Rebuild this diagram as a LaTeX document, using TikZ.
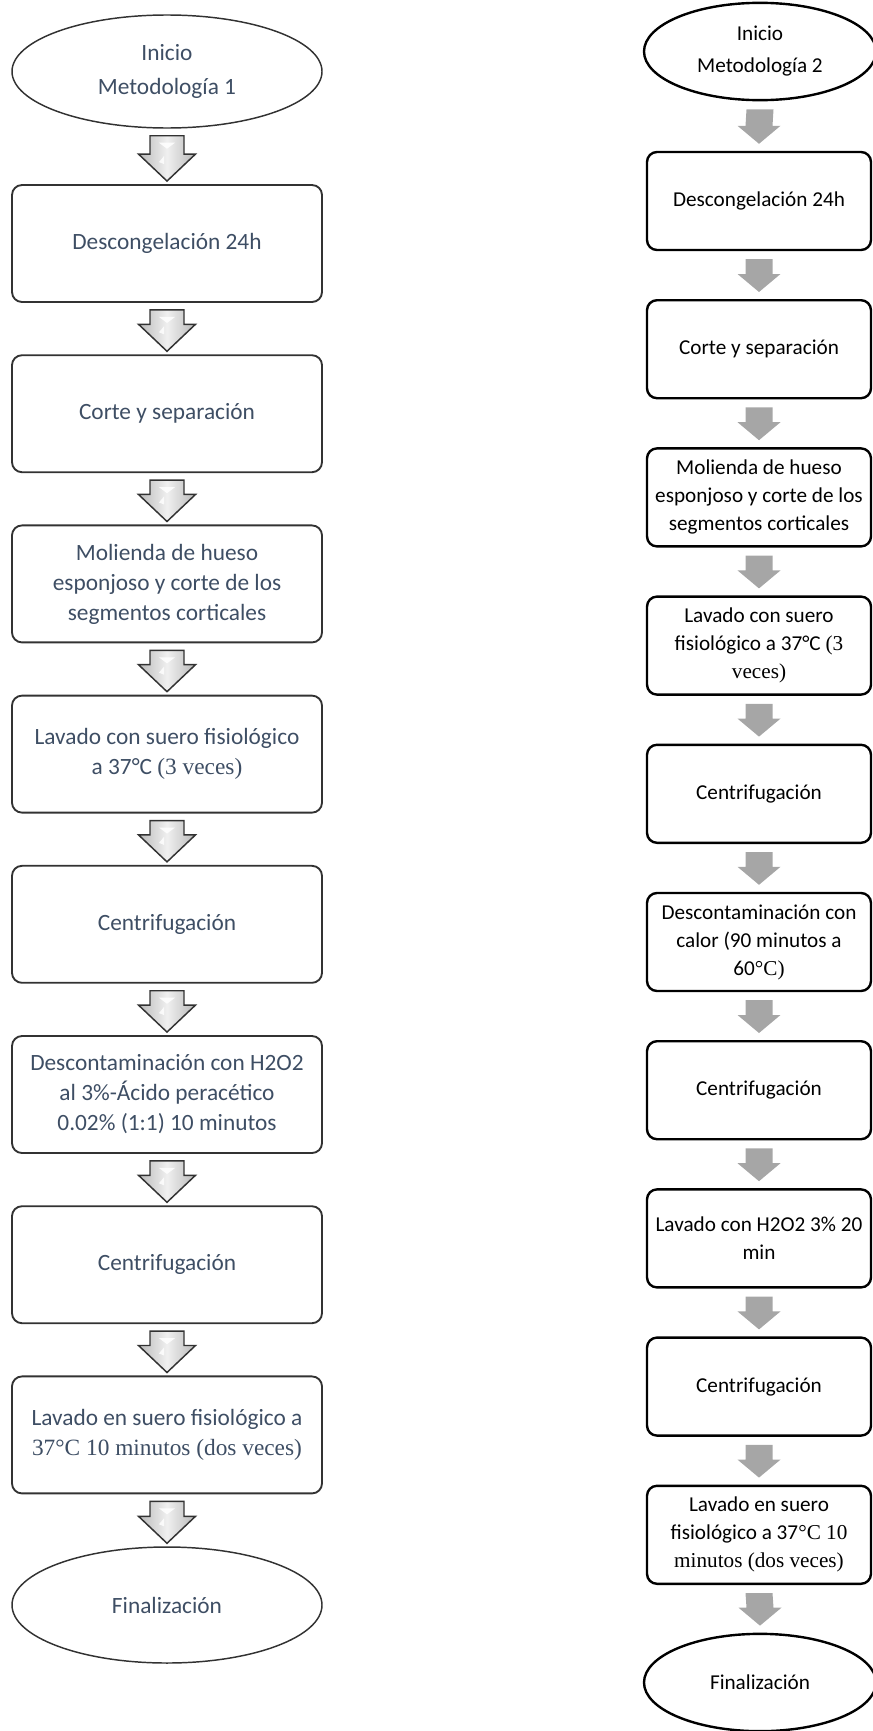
\documentclass[tikz,border=0pt]{standalone}
\usepackage{fontspec}
\setmainfont{Carlito}
\newfontfamily\tnr{Liberation Serif}
\usetikzlibrary{shapes.geometric,calc}
\definecolor{slate}{RGB}{62,78,100}
\definecolor{arrgray}{RGB}{166,166,166}
\definecolor{edgegray}{RGB}{50,50,50}
\newcommand\LArrow[2]{%
  \draw[larrow] ($(#1.south)+(-17,7)$) -- ($(#1.south)+(17,7)$) -- ($(#2.north)+(17,-30)$) -- ($(#2.north)+(28.5,-30)$) -- ($(#2.north)+(0,-3)$) -- ($(#2.north)+(-28.5,-30)$) -- ($(#2.north)+(-17,-30)$) -- cycle;
  \fill[white,opacity=0.85] ($(#1.south)+(-8,14)$) -- ($(#1.south)+(8,14)$) -- ($(#1.south)+(0,20)$) -- cycle;
  \fill[white,opacity=0.8] ($(#2.north)+(-3,-28)$) -- ($(#2.north)+(-3,-20)$) -- ($(#2.north)+(-8,-22)$) -- cycle;}
\newcommand\RArrow[2]{%
  \fill[arrgray] ($(#1.south)+(-13.5,8)$) -- ($(#1.south)+(13.5,8)$) -- ($(#2.north)+(13.5,-25)$) -- ($(#2.north)+(21.5,-25)$) -- ($(#2.north)+(0,-7)$) -- ($(#2.north)+(-21.5,-25)$) -- ($(#2.north)+(-13.5,-25)$) -- cycle;}
\begin{document}
\begin{tikzpicture}[x=0.75pt,y=-0.75pt,
  lfont/.style={font=\fontsize{17.5}{22.5}\selectfont},
  rfont/.style={font=\fontsize{15.9}{21}\selectfont},
  lbox/.style={draw=edgegray, line width=1.4pt, rounded corners=7.5pt, minimum width=232.5pt, minimum height=87.75pt, inner sep=0pt, align=center, text=slate, lfont},
  lell/.style={draw=edgegray, line width=1.1pt, ellipse, minimum width=232.5pt, inner sep=0pt, align=center, text=slate, lfont},
  rbox/.style={draw=black, line width=1.8pt, rounded corners=7.5pt, minimum width=168pt, minimum height=73.5pt, inner sep=0pt, align=center, text=black, rfont},
  rell/.style={draw=black, line width=1.8pt, ellipse, minimum width=174pt, minimum height=73pt, inner sep=0pt, align=center, text=black, rfont},
  larrow/.style={draw=edgegray, line width=1.1pt, left color=gray!55, right color=gray!55, middle color=gray!12}
]
\useasboundingbox (0,0) rectangle (873,1731);
% ---------- Left column ----------
\node[lell, minimum height=84.75pt] (L0) at (167,71.5) {Inicio\\[3pt]Metodología 1};
\node[lbox] (L1) at (167,243.5) {Descongelación 24h};
\node[lbox] (L2) at (167,413.7) {Corte y separación};
\node[lbox] (L3) at (167,583.9) {Molienda de hueso\\ esponjoso y corte de los\\ segmentos corticales};
\node[lbox] (L4) at (167,754.1) {Lavado con suero fisiológico\\ a 37°C {\tnr(3 veces)}};
\node[lbox] (L5) at (167,924.3) {Centrifugación};
\node[lbox] (L6) at (167,1094.5) {Descontaminación con H2O2\\ al 3\%-Ácido peracético\\ 0.02\% (1:1) 10 minutos};
\node[lbox] (L7) at (167,1264.7) {Centrifugación};
\node[lbox] (L8) at (167,1434.9) {Lavado en suero fisiológico a\\ {\tnr 37°C 10 minutos (dos veces)}};
\node[lell, minimum height=87pt] (L9) at (167,1605) {Finalización};
\LArrow{L0}{L1}
\LArrow{L1}{L2}
\LArrow{L2}{L3}
\LArrow{L3}{L4}
\LArrow{L4}{L5}
\LArrow{L5}{L6}
\LArrow{L6}{L7}
\LArrow{L7}{L8}
\LArrow{L8}{L9}
% ---------- Right column ----------
\node[rell] (R0) at (760,51.5) {Inicio\\[3pt]Metodología 2};
\node[rbox] (R1) at (759,201) {Descongelación 24h};
\node[rbox] (R2) at (759,349.2) {Corte y separación};
\node[rbox] (R3) at (759,497.4) {Molienda de hueso\\ esponjoso y corte de los\\ segmentos corticales};
\node[rbox] (R4) at (759,645.6) {Lavado con suero\\ fisiológico a 37°C {\tnr(3}\\ {\tnr veces)}};
\node[rbox] (R5) at (759,793.8) {Centrifugación};
\node[rbox] (R6) at (759,942) {Descontaminación con\\ calor (90 minutos a\\ 60{\tnr°C)}};
\node[rbox] (R7) at (759,1090.2) {Centrifugación};
\node[rbox] (R8) at (759,1238.4) {Lavado con H2O2 3\% 20\\ min};
\node[rbox] (R9) at (759,1386.6) {Centrifugación};
\node[rbox] (R10) at (759,1534.8) {Lavado en suero\\ fisiológico a 37{\tnr°C 10}\\ {\tnr minutos (dos veces)}};
\node[rell] (R11) at (760,1682.5) {Finalización};
\RArrow{R0}{R1}
\RArrow{R1}{R2}
\RArrow{R2}{R3}
\RArrow{R3}{R4}
\RArrow{R4}{R5}
\RArrow{R5}{R6}
\RArrow{R6}{R7}
\RArrow{R7}{R8}
\RArrow{R8}{R9}
\RArrow{R9}{R10}
\RArrow{R10}{R11}
\end{tikzpicture}
\end{document}
